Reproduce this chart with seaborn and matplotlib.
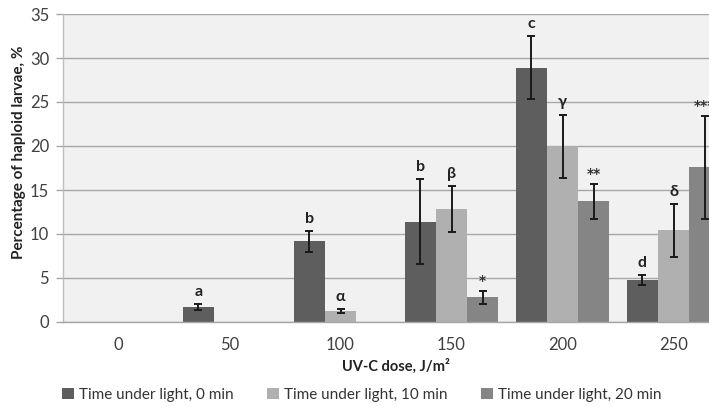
import matplotlib
matplotlib.use("Agg")
import matplotlib.pyplot as plt
import seaborn as sns
import pandas as pd
import numpy as np
from matplotlib.patches import Patch

doses = ["0", "50", "100", "150", "200", "250"]
series = ["Time under light, 0 min", "Time under light, 10 min", "Time under light, 20 min"]
vals_0 = [0, 1.7, 9.15, 11.4, 28.9, 4.75]
vals_10 = [0, 0, 1.25, 12.8, 19.95, 10.4]
vals_20 = [0, 0, 0, 2.8, 13.7, 17.6]
err_0 = [0, 0.3, 1.15, 4.8, 3.6, 0.6]
err_10 = [0, 0, 0.25, 2.6, 3.6, 3.0]
err_20 = [0, 0, 0, 0.75, 2.0, 5.85]
lab_0 = ["", "a", "b", "b", "c", "d"]
lab_10 = ["", "", "α", "β", "γ", "δ"]
lab_20 = ["", "", "", "*", "**", "***"]

colors = ["#5e5e5e", "#b0b0b0", "#858585"]

rows = []
for s, v in zip(series, [vals_0, vals_10, vals_20]):
    for d, y in zip(doses, v):
        rows.append({"dose": d, "series": s, "value": y})
df = pd.DataFrame(rows)

sns.set_style("white")
plt.rcParams["font.family"] = ["Lato", "DejaVu Sans"]

fig = plt.figure(figsize=(7.09, 4.07), dpi=100)
ax = fig.add_axes([63 / 709, 1 - 322 / 407, (729 - 63) / 709, (322 - 14) / 407])
ax.set_facecolor("#f1f1f1")

sns.barplot(data=df, x="dose", y="value", hue="series", order=doses, hue_order=series,
            palette=colors, width=0.84, errorbar=None, ax=ax, linewidth=0, saturation=1)

errs = [err_0, err_10, err_20]
labs = [lab_0, lab_10, lab_20]
for cont, e_list, l_list in zip(ax.containers, errs, labs):
    for bar, e, l in zip(cont, e_list, l_list):
        h = bar.get_height()
        if h <= 0:
            continue
        xc = bar.get_x() + bar.get_width() / 2
        ax.errorbar(xc, h, yerr=e, fmt="none", ecolor="#1a1a1a", elinewidth=1.4,
                    capsize=3, capthick=1.4, zorder=4)
        if l:
            if "*" in l:
                ax.text(xc, h + e + 0.3, l, ha="center", va="bottom", fontsize=10,
                        fontweight="bold", color="#333333", zorder=5,
                        family=["DejaVu Sans"])
            else:
                ax.text(xc, h + e + 0.6, l, ha="center", va="bottom", fontsize=11.5,
                        fontweight="bold", color="#222222", zorder=5,
                        family=["Lato", "DejaVu Sans"])

ax.set_xlim(-0.5, 5.5)
ax.set_ylim(0, 35)
ax.set_yticks(np.arange(0, 36, 5))
ax.yaxis.grid(True, color="#a6a6a6", linewidth=1.0)
ax.set_axisbelow(True)
for s in ["top", "right"]:
    ax.spines[s].set_visible(False)
ax.spines["left"].set_color("#bdbdbd")
ax.spines["bottom"].set_color("#a6a6a6")
ax.spines["left"].set_linewidth(1.0)
ax.spines["bottom"].set_linewidth(1.0)

# category separator ticks
ax.set_xticks(np.arange(-0.5, 6.0, 1.0), minor=False)
ax.set_xticklabels([""] * 7)
ax.set_xticks(np.arange(0, 6), minor=True)
ax.set_xticklabels(doses, minor=True)
ax.tick_params(axis="x", which="major", length=5, color="#a6a6a6", width=1, direction="out")
ax.tick_params(axis="x", which="minor", length=0, labelsize=12, labelcolor="#404040", pad=11)
ax.tick_params(axis="y", length=5, color="#a6a6a6", width=1, labelsize=12,
               labelcolor="#404040", direction="out", left=True, pad=5)

ax.set_xlabel("UV-C dose, J/m²", fontsize=10.5, fontweight="bold", color="#222222")
ax.xaxis.set_label_coords((396 - 63) / (729 - 63), -(359 - 322) / (322 - 14))
ax.set_ylabel("Percentage of haploid larvae, %", fontsize=11, fontweight="bold", color="#222222")
ax.yaxis.set_label_coords(-(63 - 26) / (729 - 63), (322 - 152) / (322 - 14))

if ax.get_legend() is not None:
    ax.get_legend().remove()
handles = [Patch(facecolor=c, edgecolor="none") for c in colors]
fig.legend(handles, series, loc="center", bbox_to_anchor=(362 / 709, 1 - 395 / 407), ncol=3,
           frameon=False, fontsize=11, handlelength=0.75, handleheight=0.75, handletextpad=0.35,
           columnspacing=2.2, labelcolor="#333333")

fig.savefig("out.png", dpi=100)
